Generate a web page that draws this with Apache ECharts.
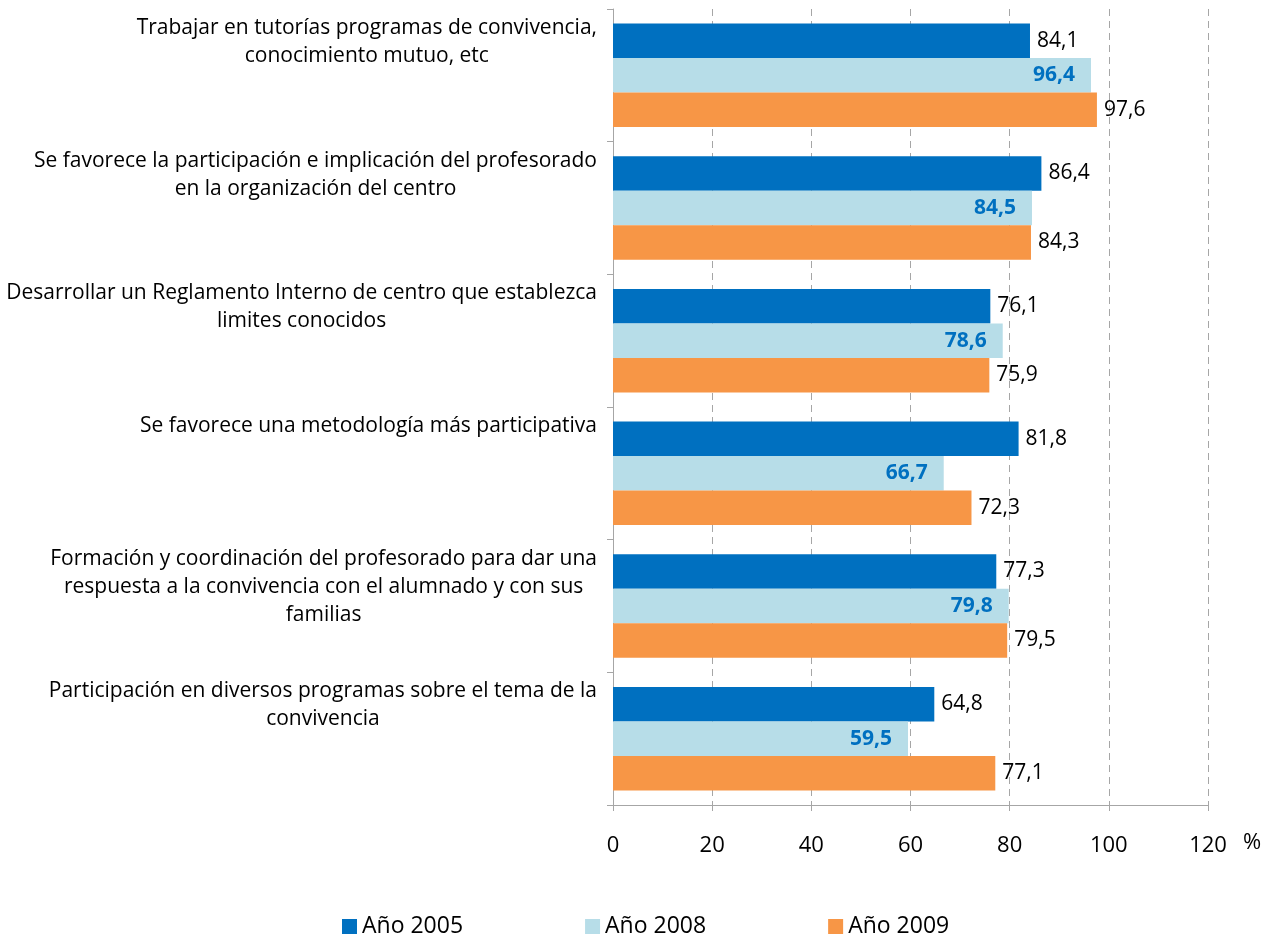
<!DOCTYPE html>
<html>
<head>
<meta charset="utf-8">
<script src="https://cdn.jsdelivr.net/npm/echarts@6/dist/echarts.min.js"></script>
<style>
html,body{margin:0;padding:0;background:#fff;}
#chart{width:1275px;height:936px;}
</style>
</head>
<body>
<div id="chart"></div>
<script>
const categories = [
  "Trabajar en tutorías programas de convivencia,\nconocimiento mutuo, etc",
  "Se favorece la participación e implicación del profesorado\nen la organización del centro",
  "Desarrollar un Reglamento Interno de centro que establezca\nlimites conocidos",
  "Se favorece una metodología más participativa",
  "Formación y coordinación del profesorado para dar una\nrespuesta a la convivencia con el alumnado y con sus\nfamilias",
  "Participación en diversos programas sobre el tema de la\nconvivencia"
];
const seriesNames = ["Año 2005", "Año 2008", "Año 2009"];
const values2005 = [84.1, 86.4, 76.1, 81.8, 77.3, 64.8];
const values2008 = [96.4, 84.5, 78.6, 66.7, 79.8, 59.5];
const values2009 = [97.6, 84.3, 75.9, 72.3, 79.5, 77.1];
const xTicks = { min: 0, max: 120, interval: 20 };

const FONT = "'Open Sans', 'DejaVu Sans', sans-serif";
const fmt = p => p.value.toFixed(1).replace('.', ',');
const chart = echarts.init(document.getElementById('chart'));

const gridBox = { left: 613, right: 67, top: 9, bottom: 131 };

const option = {
  backgroundColor: '#ffffff',
  animation: false,
  grid: [
    Object.assign({ containLabel: false }, gridBox),
    Object.assign({ containLabel: false }, gridBox)
  ],
  legend: {
    data: seriesNames,
    left: 337,
    top: 910,
    itemWidth: 15,
    itemHeight: 15,
    itemGap: 122,
    icon: 'rect',
    textStyle: { fontFamily: FONT, fontSize: 23, color: '#000' }
  },
  xAxis: [
    {
      type: 'value', gridIndex: 0,
      min: xTicks.min, max: xTicks.max, interval: xTicks.interval,
      name: '%', nameLocation: 'end', nameGap: 35,
      nameTextStyle: { fontFamily: FONT, fontSize: 22, color: '#000', align: 'left', verticalAlign: 'top', padding: [27, 0, 0, 0] },
      axisLine: { show: true, lineStyle: { color: '#A6A6A6', width: 1 } },
      axisTick: { show: true, length: 6, lineStyle: { color: '#A6A6A6' } },
      axisLabel: { fontFamily: FONT, fontSize: 22, color: '#000', margin: 30 },
      splitLine: { show: true, lineStyle: { color: '#A6A6A6', type: [7, 5], width: 1 } }
    },
    { type: 'value', gridIndex: 1, show: false }
  ],
  yAxis: [
    {
      type: 'category', gridIndex: 0, inverse: true,
      data: categories,
      axisLine: { show: true, lineStyle: { color: '#A6A6A6', width: 1 } },
      axisTick: { show: true, length: 6, lineStyle: { color: '#A6A6A6' } },
      axisLabel: { show: false }
    },
    {
      type: 'category', gridIndex: 1, inverse: true, boundaryGap: false,
      data: categories.concat(['']),
      axisLine: { show: false }, axisTick: { show: false }, splitLine: { show: false },
      axisLabel: {
        interval: 0, margin: 16, align: 'right', verticalAlign: 'top',
        padding: [5, 0, 0, 0],
        formatter: v => v ? v.split('\n').map(l => '{c|' + l + '}').join('\n') : '',
        rich: { c: { align: 'center', fontFamily: FONT, fontSize: 21, lineHeight: 28, color: '#000' } }
      }
    }
  ],
  series: [
    {
      name: seriesNames[0], type: 'bar', xAxisIndex: 0, yAxisIndex: 0,
      data: values2005, barGap: '0%', barCategoryGap: '22%',
      itemStyle: { color: '#0070C0' },
      label: { show: true, position: 'right', distance: 7, formatter: fmt, fontFamily: FONT, fontSize: 21, color: '#000' }
    },
    {
      name: seriesNames[1], type: 'bar', xAxisIndex: 0, yAxisIndex: 0,
      data: values2008, barGap: '0%', barCategoryGap: '22%',
      itemStyle: { color: '#B7DDE8' },
      label: { show: true, position: 'insideRight', distance: 16, formatter: fmt, fontFamily: FONT, fontSize: 21, fontWeight: 'bold', color: '#0070C0' }
    },
    {
      name: seriesNames[2], type: 'bar', xAxisIndex: 0, yAxisIndex: 0,
      data: values2009, barGap: '0%', barCategoryGap: '22%',
      itemStyle: { color: '#F79646' },
      label: { show: true, position: 'right', distance: 7, formatter: fmt, fontFamily: FONT, fontSize: 21, color: '#000' }
    }
  ]
};
chart.setOption(option);
</script>
</body>
</html>
